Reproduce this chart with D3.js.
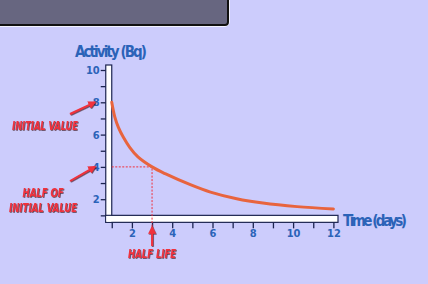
<!DOCTYPE html>
<html>
<head>
<meta charset="utf-8">
<script src="https://cdn.jsdelivr.net/npm/d3@7"></script>
<style>
  html, body { margin: 0; padding: 0; background: #ccccfc; }
  svg { display: block; }
  .lbl { font-family: "Liberation Sans Narrow", "DejaVu Sans Condensed", sans-serif; font-weight: bold; }
</style>
</head>
<body>
<div id="chart"></div>
<script>
// values
const times = [1, 1.15, 1.33, 1.57, 1.9, 2.3, 3, 3.65, 4.9, 5.9, 7.2, 8.5, 10.2, 12];
const activity = [8.0, 7.1, 6.45, 5.85, 5.2, 4.62, 4.0, 3.58, 2.9, 2.44, 2.03, 1.76, 1.54, 1.4];
const xTicks = [1, 2, 3, 4, 5, 6, 7, 8, 9, 10, 11, 12];
const yTicks = [1, 2, 3, 4, 5, 6, 7, 8, 9, 10];
const xLabels = [2, 4, 6, 8, 10, 12];
const yLabels = [2, 4, 6, 8, 10];
const halfLife = 3;
const halfValue = 4;
const initialValue = 8;

function main() {
    const width = 428, height = 284;
    const blue = "#2b63b8", red = "#f0303c", navy = "#1c2450";

    const svg = d3.select("#chart").append("svg")
        .attr("width", width)
        .attr("height", height)

    svg.append("rect").attr("width", width).attr("height", height).attr("fill", "#ccccfc")

    const defs = svg.append("defs")
    const f = defs.append("filter").attr("id", "shadow")
    f.append("feDropShadow").attr("dx", 0.8).attr("dy", 0.8).attr("stdDeviation", 0.4)
        .attr("flood-color", "#401018").attr("flood-opacity", 0.8)
    defs.append("marker").attr("id", "arr")
        .attr("viewBox", "0 0 10 10").attr("refX", 8).attr("refY", 5)
        .attr("markerWidth", 4).attr("markerHeight", 4).attr("orient", "auto")
        .append("path").attr("d", "M0,0L10,5L0,10z").attr("fill", red)

    // dark panel top-left
    svg.append("rect")
        .attr("x", -6).attr("y", -6).attr("width", 234).attr("height", 31).attr("rx", 3)
        .attr("fill", "#676680").attr("stroke", "#ffffff").attr("stroke-width", 3.5)
    svg.append("rect")
        .attr("x", -6).attr("y", -6).attr("width", 234).attr("height", 31).attr("rx", 3)
        .attr("fill", "#676680").attr("stroke", "#111").attr("stroke-width", 2)

    // scales
    const x = d3.scaleLinear().domain([0, 12]).range([91.6, 333.4])
    const y = d3.scaleLinear().domain([0, 10]).range([231.5, 70])

    const x0 = x(1), y0 = y(1);

    // white axis bars
    svg.append("rect")
        .attr("x", x0 - 6).attr("y", 65).attr("width", 6).attr("height", y0 + 7 - 65)
        .attr("fill", "#fff").attr("stroke", navy).attr("stroke-width", 1.2)
    svg.append("rect")
        .attr("x", x0 - 6).attr("y", y0).attr("width", 338 - x0 + 6).attr("height", 7)
        .attr("fill", "#fff").attr("stroke", navy).attr("stroke-width", 1.2)
    svg.append("rect")
        .attr("x", x0 - 5.4).attr("y", y0 + 0.6).attr("width", 5).attr("height", 5.8)
        .attr("fill", "#fff")

    // y ticks
    const yAxis = svg.append("g").attr("transform", `translate(${x0 - 6},0)`)
        .call(d3.axisLeft(y).tickValues(yTicks).tickSize(5)
            .tickFormat(d => yLabels.includes(d) ? d : ""))
    yAxis.select(".domain").remove()
    yAxis.selectAll("line").attr("stroke", navy).attr("stroke-width", 1.3)
    yAxis.selectAll("text").attr("class", "lbl").attr("fill", blue)
        .attr("font-size", 11).attr("x", -6)

    // x ticks
    const xAxis = svg.append("g").attr("transform", `translate(0,${y0 + 7})`)
        .call(d3.axisBottom(x).tickValues(xTicks).tickSize(6)
            .tickFormat(d => xLabels.includes(d) ? d : ""))
    xAxis.select(".domain").remove()
    xAxis.selectAll("line").attr("stroke", navy).attr("stroke-width", 1.3)
    xAxis.selectAll("text").attr("class", "lbl").attr("fill", blue)
        .attr("font-size", 11).attr("y", 7)

    // half-life guides
    svg.append("path")
        .attr("d", `M${x0},${y(halfValue)}H${x(halfLife)}V${y0 + 12}`)
        .attr("fill", "none").attr("stroke", red).attr("stroke-width", 1)
        .attr("stroke-dasharray", "2,1.5")

    // decay curve
    const line = d3.line()
        .x((d, i) => x(times[i]))
        .y(d => y(d))
        .curve(d3.curveCatmullRom.alpha(0.5))
    svg.append("path")
        .datum(activity)
        .attr("d", line)
        .attr("fill", "none").attr("stroke", "#e8643e").attr("stroke-width", 3)
        .attr("stroke-linecap", "round")

    // axis titles
    svg.append("text").attr("class", "lbl")
        .attr("x", 111).attr("y", 57).attr("text-anchor", "middle")
        .attr("font-size", 15).attr("fill", blue).attr("textLength", 72)
        .text("Activity (Bq)")
    svg.append("text").attr("class", "lbl")
        .attr("x", 343).attr("y", 226)
        .attr("font-size", 15).attr("fill", blue).attr("textLength", 64)
        .text("Time (days)")

    // annotations
    const ann = svg.append("g").attr("filter", "url(#shadow)")
    function note(tx, ty, txt, w) {
        const g = ann.append("g")
        const t = g.append("text").attr("class", "lbl")
            .attr("text-anchor", "middle")
            .attr("font-size", 12).attr("font-style", "italic").attr("fill", red)
            .text(txt)
        const nat = t.node().getComputedTextLength() || w
        g.attr("transform", `translate(${tx},${ty}) scale(${w / nat},1)`)
    }
    function arrow(ax, ay, bx, by) {
        ann.append("line").attr("x1", ax).attr("y1", ay).attr("x2", bx).attr("y2", by)
            .attr("stroke", red).attr("stroke-width", 2).attr("marker-end", "url(#arr)")
    }
    note(45, 130, "INITIAL VALUE", 66)
    arrow(70, 114, x0 - 17, y(initialValue))
    note(43, 197, "HALF OF", 41)
    note(43, 212, "INITIAL VALUE", 68)
    arrow(70, 181, x0 - 17, y(halfValue))
    note(x(halfLife), 258, "HALF LIFE", 48)
    arrow(x(halfLife), 246, x(halfLife), y0 + 12)
}
main();
</script>
</body>
</html>
